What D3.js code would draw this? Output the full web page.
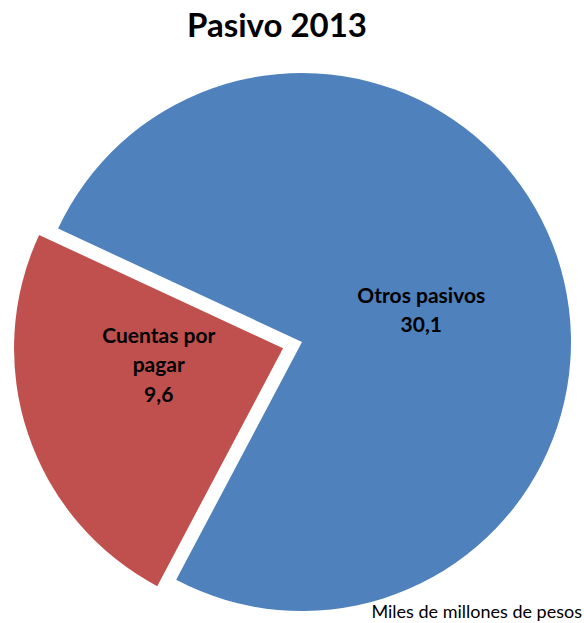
<!DOCTYPE html>
<html>
<head>
<meta charset="utf-8">
<script src="https://cdn.jsdelivr.net/npm/d3@7"></script>
<style>
  body { margin: 0; background: #fff; }
  svg { display: block; font-family: Lato, "Noto Sans", sans-serif; }
</style>
</head>
<body>
<div id="chart"></div>
<script>
// data
const categories = ['Otros pasivos', 'Cuentas por pagar'];
const values = [30.1, 9.6];
const labelLines = [['Otros pasivos'], ['Cuentas por', 'pagar']];
const colors = ['#4F81BD', '#C0504D'];

const width = 584, height = 623;
const cx = 302, cy = 342, radius = 269;
const explode = [0, 20];
// label placement tweaks (first baseline relative to centroid)
const labelNudge = [[2, 0], [-7, -45]];

const svg = d3.select('#chart').append('svg')
    .attr('width', width)
    .attr('height', height);

svg.append('text')
    .attr('x', 277)
    .attr('y', 37)
    .attr('text-anchor', 'middle')
    .attr('font-size', 33)
    .attr('font-weight', 'bold')
    .text('Pasivo 2013');

const pie = d3.pie()
    .sort(null)
    .startAngle(-65.06 * Math.PI / 180)
    .endAngle((360 - 65.06) * Math.PI / 180);

const arcs = pie(values);
const arc = d3.arc().innerRadius(0).outerRadius(radius);
const labelArc = d3.arc().innerRadius(radius * 0.46).outerRadius(radius * 0.46);

const g = svg.append('g').attr('transform', `translate(${cx},${cy})`);

const slices = g.selectAll('g.slice')
    .data(arcs)
    .enter()
    .append('g')
    .attr('class', 'slice')
    .attr('transform', (d, i) => {
        const mid = (d.startAngle + d.endAngle) / 2;
        return `translate(${Math.sin(mid) * explode[i]},${-Math.cos(mid) * explode[i]})`;
    });

slices.append('path')
    .attr('d', arc)
    .attr('fill', (d, i) => colors[i]);

// labels: category lines + value
slices.each(function(d, i) {
    const c = labelArc.centroid(d);
    const lines = labelLines[i].concat([d3.format('.1f')(values[i]).replace('.', ',')]);
    const lh = 29.5;
    const x = c[0] + labelNudge[i][0];
    const top = c[1] + labelNudge[i][1];
    const t = d3.select(this).append('text')
        .attr('text-anchor', 'middle')
        .attr('font-size', 21)
        .attr('font-weight', 'bold')
        .attr('fill', '#000');
    lines.forEach((ln, k) => {
        t.append('tspan')
            .attr('x', x)
            .attr('y', top + k * lh)
            .text(ln);
    });
});

svg.append('text')
    .attr('x', 582)
    .attr('y', 618)
    .attr('text-anchor', 'end')
    .attr('font-size', 18)
    .text('Miles de millones de pesos');
</script>
</body>
</html>
